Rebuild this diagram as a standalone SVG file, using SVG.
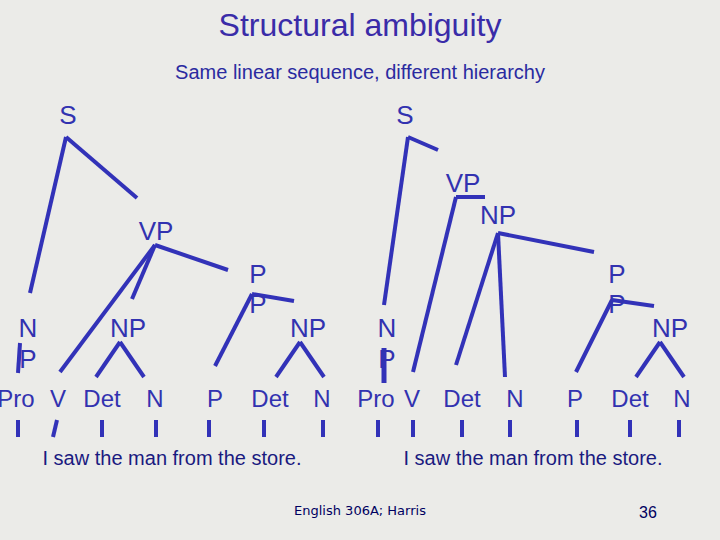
<svg xmlns="http://www.w3.org/2000/svg" width="720" height="540" viewBox="0 0 720 540">
<style>
text{font-family:"Liberation Sans",Arial,sans-serif;fill:#3232b0;text-anchor:middle}
.n{font-size:26px}
.w{font-size:24px}
.s{font-size:20px;fill:#1a1a80}
line{stroke:#3232b8;stroke-width:4;stroke-linecap:butt}
</style>
<rect width="720" height="540" fill="#ebebe8"/>
<text x="360" y="36" style="font-size:32px;fill:#3a2ca8">Structural ambiguity</text>
<text x="360" y="79" style="font-size:20px;fill:#2a2aa0">Same linear sequence, different hierarchy</text>
<g id="connectors">
<line x1="66" y1="137" x2="30" y2="293"/><line x1="66" y1="137" x2="137" y2="198"/>
<line x1="155" y1="245" x2="60" y2="372"/><line x1="155" y1="245" x2="132" y2="299"/><line x1="155" y1="245" x2="228" y2="270"/>
<line x1="252" y1="294" x2="215" y2="366"/><line x1="252" y1="294" x2="294" y2="301"/>
<line x1="120" y1="342" x2="96" y2="377"/><line x1="120" y1="342" x2="144" y2="377"/>
<line x1="300" y1="342" x2="276" y2="377"/><line x1="300" y1="342" x2="324" y2="377"/>
<line x1="20" y1="343" x2="18" y2="373"/>
<line x1="408" y1="137" x2="384" y2="305"/><line x1="408" y1="137" x2="438" y2="150"/>
<line x1="456" y1="197" x2="485" y2="197"/><line x1="456" y1="197" x2="413" y2="372"/>
<line x1="498" y1="233" x2="594" y2="252"/><line x1="498" y1="233" x2="456" y2="365"/><line x1="498" y1="233" x2="505" y2="377"/>
<line x1="612" y1="300" x2="576" y2="372"/><line x1="612" y1="300" x2="654" y2="306"/>
<line x1="660" y1="342" x2="636" y2="377"/><line x1="660" y1="342" x2="684" y2="377"/>
<line x1="384" y1="348" x2="384" y2="383" style="stroke-width:5"/>
<g>
<line x1="18" y1="420" x2="18" y2="437"/><line x1="57" y1="420" x2="53" y2="437"/><line x1="102" y1="420" x2="102" y2="437"/><line x1="156" y1="420" x2="156" y2="437"/><line x1="209" y1="420" x2="209" y2="437"/><line x1="264" y1="420" x2="264" y2="437"/><line x1="323" y1="420" x2="323" y2="437"/>
<line x1="378" y1="420" x2="378" y2="437"/><line x1="413" y1="420" x2="413" y2="437"/><line x1="462" y1="420" x2="462" y2="437"/><line x1="510" y1="420" x2="510" y2="437"/><line x1="577" y1="420" x2="577" y2="437"/><line x1="630" y1="420" x2="630" y2="437"/><line x1="679" y1="420" x2="679" y2="437"/>
</g>
</g>
<g id="left-tree">
<text class="n" x="68" y="124">S</text>
<text class="n" x="156" y="240">VP</text>
<text class="n" x="28" y="337">N</text><text class="n" x="28" y="368">P</text>
<text class="n" x="128" y="337">NP</text>
<text class="n" x="258" y="283">P</text><text class="n" x="258" y="313">P</text>
<text class="n" x="308" y="337">NP</text>
<text class="w" x="16" y="407">Pro</text><text class="w" x="58" y="407">V</text><text class="w" x="102" y="407">Det</text><text class="w" x="155" y="407">N</text>
<text class="w" x="215" y="407">P</text><text class="w" x="270" y="407">Det</text><text class="w" x="322" y="407">N</text>
<text class="s" x="172" y="465">I saw the man from the store.</text>
</g>
<g id="right-tree">
<text class="n" x="405" y="124">S</text>
<text class="n" x="463" y="192">VP</text>
<text class="n" x="498" y="224">NP</text>
<text class="n" x="387" y="337">N</text><text class="n" x="387" y="368">P</text>
<text class="n" x="617" y="283">P</text><text class="n" x="617" y="313">P</text>
<text class="n" x="670" y="337">NP</text>
<text class="w" x="376" y="407">Pro</text><text class="w" x="412" y="407">V</text><text class="w" x="462" y="407">Det</text><text class="w" x="515" y="407">N</text>
<text class="w" x="575" y="407">P</text><text class="w" x="630" y="407">Det</text><text class="w" x="682" y="407">N</text>
<text class="s" x="533" y="465">I saw the man from the store.</text>
</g>
<text x="360" y="515" style="font-size:13px;fill:#000060;font-family:'DejaVu Sans',sans-serif">English 306A; Harris</text>
<text x="648" y="518" style="font-size:16px;fill:#000060">36</text>
</svg>
